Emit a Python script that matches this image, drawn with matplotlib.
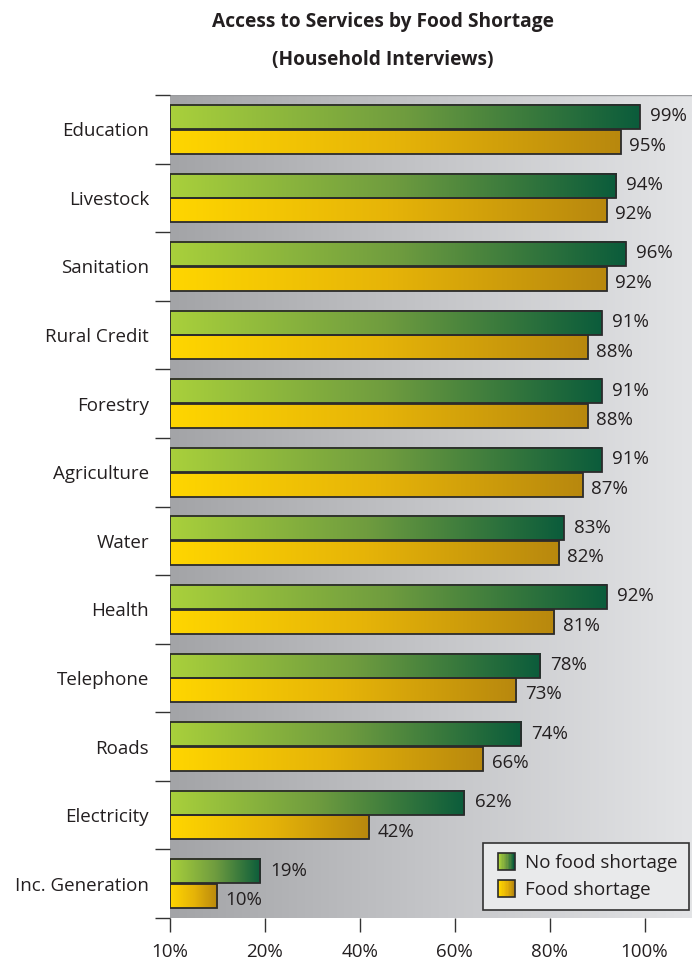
import numpy as np
import matplotlib
matplotlib.use("Agg")
import matplotlib.pyplot as plt
from matplotlib.colors import LinearSegmentedColormap
from matplotlib.patches import Rectangle, Patch
from matplotlib.legend_handler import HandlerBase

plt.rcParams['font.family'] = ['Open Sans', 'DejaVu Sans']

# --- data -------------------------------------------------------------
categories = ["Education", "Livestock", "Sanitation", "Rural Credit", "Forestry",
              "Agriculture", "Water", "Health", "Telephone", "Roads",
              "Electricity", "Inc. Generation"]
no_shortage = [99, 94, 96, 91, 91, 91, 83, 92, 78, 74, 62, 19]
food_shortage = [95, 92, 92, 88, 88, 87, 82, 81, 73, 66, 42, 10]
x_ticks = [0, 20, 40, 60, 80, 100]
x_tick_labels = ["10%", "20%", "40%", "60%", "80%", "100%"]
series_names = ["No food shortage", "Food shortage"]

# --- styling ----------------------------------------------------------
green_cmap = LinearSegmentedColormap.from_list("g", ["#a9d03b", "#6f9c3f", "#0b5c3b"])
gold_cmap = LinearSegmentedColormap.from_list("y", ["#ffd600", "#e6b408", "#b8880e"])
bg_cmap = LinearSegmentedColormap.from_list("bg", ["#a3a4a7", "#c4c5c8", "#e3e4e6"])
edge = "#2b2b2b"
text_color = "#231f20"
fs = 13.5

fig = plt.figure(figsize=(6.92, 9.65), dpi=100)
ax = fig.add_axes([170 / 692, 1 - 918 / 965, 522 / 692, 823 / 965])

n = len(categories)
y = np.arange(n)
bar_h = 0.35
off = 0.18

ramp = np.linspace(0, 1, 256).reshape(1, -1)

# background gradient
ax.imshow(ramp, cmap=bg_cmap, extent=[0, 1, 0, 1], transform=ax.transAxes,
          aspect='auto', zorder=0)

def gradient_bars(values, centers, cmap, label_dx, label_dy):
    bars = ax.barh(centers, values, height=bar_h, facecolor='none',
                   edgecolor=edge, linewidth=1.3, zorder=3)
    for b, v in zip(bars, values):
        x0, y0, w, h = b.get_x(), b.get_y(), b.get_width(), b.get_height()
        ax.imshow(ramp, cmap=cmap, extent=[x0, x0 + w, y0 + h, y0],
                  aspect='auto', zorder=2, interpolation='bilinear')
        ax.annotate(f"{v}%", xy=(x0 + w, y0 + h / 2), xytext=(label_dx, label_dy),
                    textcoords='offset points', va='center', ha='left',
                    fontsize=fs, color=text_color, zorder=4)
    return bars

gradient_bars(no_shortage, y - off, green_cmap, 7.5, 0.5)
gradient_bars(food_shortage, y + off, gold_cmap, 6, -3)

ax.set_xlim(0, 110)
ax.set_ylim(n - 0.5, -0.5)
ax.set_aspect('auto')

# axes decoration
for s in ax.spines.values():
    s.set_visible(False)
ax.plot([0, 1], [1, 1], transform=ax.transAxes, color="#9a9b9e", lw=1, zorder=1)

ax.set_yticks(np.arange(-0.5, n, 1.0))
ax.set_yticklabels([])
ax.set_yticks(y, minor=True)
ax.set_yticklabels(categories, minor=True, fontsize=fs, color=text_color)
ax.tick_params(axis='y', which='major', length=11, width=1, color="#333333", direction='out')
ax.tick_params(axis='y', which='minor', length=0, pad=15)

ax.set_xticks(x_ticks)
ax.set_xticklabels(x_tick_labels, fontsize=fs, color=text_color)
ax.tick_params(axis='x', length=10, width=1, color="#333333", direction='out', pad=8)

# legend with gradient swatches
class GradientHandler(HandlerBase):
    def __init__(self, cmap):
        super().__init__()
        self.cmap = cmap

    def create_artists(self, legend, orig_handle, xdescent, ydescent, width,
                       height, fontsize, trans):
        s = 12
        x0 = width - s - xdescent
        y0 = (height - s) / 2 - ydescent
        arts = []
        steps = 12
        for i in range(steps):
            r = Rectangle((x0 + i * s / steps, y0), s / steps + 0.3, s,
                          facecolor=self.cmap(i / (steps - 1)), edgecolor='none',
                          transform=trans)
            arts.append(r)
        arts.append(Rectangle((x0, y0), s, s, facecolor='none', edgecolor=edge,
                              lw=1.2, transform=trans))
        return arts

h_green = Patch(label=series_names[0])
h_gold = Patch(label=series_names[1])
leg = ax.legend(handles=[h_green, h_gold],
                handler_map={h_green: GradientHandler(green_cmap),
                             h_gold: GradientHandler(gold_cmap)},
                loc='lower right', bbox_to_anchor=(0.994, 0.0097),
                borderaxespad=0,
                fontsize=fs, frameon=True, fancybox=False, framealpha=1,
                handlelength=1.1, handletextpad=0.55, labelspacing=0.45,
                borderpad=0.6)
leg.get_frame().set_facecolor("#e9eaeb")
leg.get_frame().set_edgecolor("#333333")
leg.get_frame().set_linewidth(1.2)
leg.set_zorder(5)
for t in leg.get_texts():
    t.set_color(text_color)

fig.text(383 / 692, 1 - 22 / 965, "Access to Services by Food Shortage",
         ha='center', va='center', fontsize=13.8, fontweight='bold', color=text_color)
fig.text(383 / 692, 1 - 60 / 965, "(Household Interviews)",
         ha='center', va='center', fontsize=13.8, fontweight='bold', color=text_color)

fig.savefig("out.png", dpi=100)
